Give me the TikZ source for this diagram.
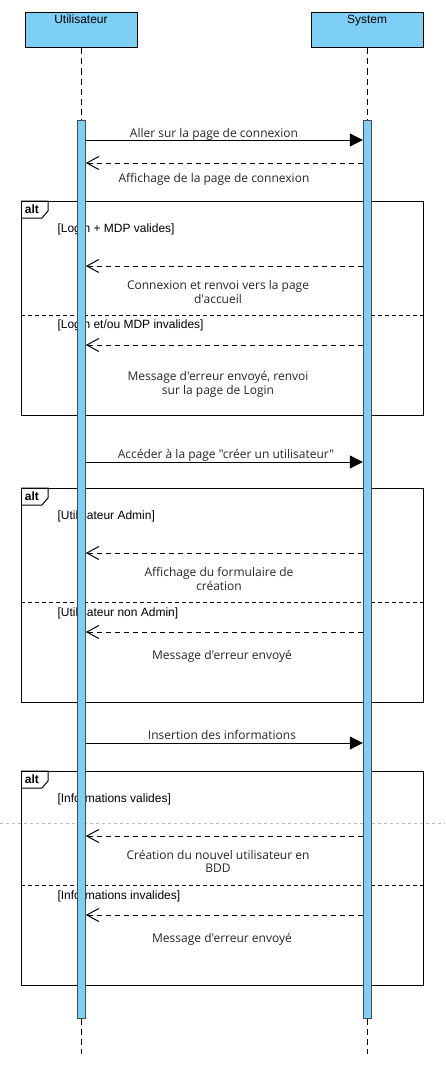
\documentclass[tikz,border=0pt]{standalone}
\usepackage{fontspec}
\setmainfont{Liberation Sans}
\newfontfamily\msgfont{Open Sans}
\usepackage{tikz}
\usetikzlibrary{arrows.meta}
\definecolor{umlblue}{RGB}{125,207,245}
\tikzset{every picture/.append style={x=1pt,y=-1pt}}
\tikzset{actor/.style={draw=black, fill=umlblue, line width=1pt, minimum width=112pt, minimum height=35pt, inner sep=0pt}}
\tikzset{actorname/.style={font=\fontsize{12}{14}\selectfont, anchor=base, inner sep=0pt}}
\tikzset{lifeline/.style={line width=1pt, dash pattern=on 6pt off 4pt}}
\tikzset{actbar/.style={draw=black!70, fill=umlblue, line width=1pt, minimum width=8pt, minimum height=898pt, inner sep=0pt}}
\tikzset{call/.style={line width=1pt, -{Triangle[length=13pt,width=13pt]}}}
\tikzset{reply/.style={line width=1pt, dash pattern=on 5pt off 4pt, -{Straight Barb[length=12pt,width=13pt]}}}
\tikzset{msg/.style={font=\msgfont\fontsize{12}{13.7}\selectfont, text=black!85, anchor=base, inner sep=0pt, align=center}}
\tikzset{guard/.style={font=\fontsize{12}{14}\selectfont, anchor=base west, inner sep=0pt}}
\tikzset{frame/.style={line width=1pt}}
\tikzset{divider/.style={line width=1pt, dash pattern=on 4pt off 3pt}}
\tikzset{alttag/.style={font=\bfseries\fontsize{12}{14}\selectfont, anchor=base west, inner sep=0pt}}
\tikzset{pagebreak/.style={black!25, line width=0.8pt, dash pattern=on 3pt off 3pt}}

\begin{document}
\begin{tikzpicture}
%sequence: user logs in, asks for the user creation page, sends the new user data
\useasboundingbox (0,0) rectangle (445,1073);
\draw[pagebreak] (0,823) -- (445,823);
\node (user) at (81,30.5)[actor]{};
\node (sys) at (367,30.5)[actor]{};
\node at (81,24)[actorname]{Utilisateur};
\node at (367,24)[actorname]{System};
\coordinate (userend) at (81,1054);
\coordinate (sysend) at (367,1054);
\draw[lifeline] (user.south)--(userend);
\draw[lifeline] (sys.south)--(sysend);
% frames
\draw[frame] (21,201) rectangle (423,415);
\draw[frame] (21,201)--(48,201)--(48,211)--(42,218)--(21,218);
\node at (24.7,213.3)[alttag]{alt};
\node at (57.3,232)[guard]{[Login + MDP valides]};
\draw[divider] (21,315)--(423,315);
\node at (57.3,328.3)[guard]{[Login et/ou MDP invalides]};
\draw[frame] (21,488) rectangle (423,702);
\draw[frame] (21,488)--(48,488)--(48,498)--(42,505)--(21,505);
\node at (24.7,500.3)[alttag]{alt};
\node at (57.3,519)[guard]{[Utilisateur Admin]};
\draw[divider] (21,602)--(423,602);
\node at (57.3,616)[guard]{[Utilisateur non Admin]};
\draw[frame] (21,771) rectangle (423,985);
\draw[frame] (21,771)--(48,771)--(48,781)--(42,788)--(21,788);
\node at (24.7,783.3)[alttag]{alt};
\node at (57.3,802)[guard]{[Informations valides]};
\draw[divider] (21,885)--(423,885);
\node at (57.3,899)[guard]{[Informations invalides]};
% activation bars
\node (userbar) at (81.3,569)[actbar]{};
\node (sysbar) at (367.3,569)[actbar]{};
% messages
\coordinate (m1) at (0,140);
\coordinate (m2) at (0,163);
\coordinate (m3) at (0,266);
\coordinate (m4) at (0,345);
\coordinate (m5) at (0,462);
\coordinate (m6) at (0,553);
\coordinate (m7) at (0,632);
\coordinate (m8) at (0,743);
\coordinate (m9) at (0,836);
\coordinate (m10) at (0,915);
\draw[call] (userbar.east |- m1)--(sysbar.west |- m1);
\node at (214,137.5)[msg]{Aller sur la page de connexion};
\draw[reply] (sysbar.west |- m2)--(userbar.east |- m2);
\node at (214,182)[msg]{Affichage de la page de connexion};
\draw[reply] (sysbar.west |- m3)--(userbar.east |- m3);
\node at (218,303.3)[msg]{Connexion et renvoi vers la page\\d'accueil};
\draw[reply] (sysbar.west |- m4)--(userbar.east |- m4);
\node at (218,394)[msg]{Message d'erreur envoyé, renvoi\\sur la page de Login};
\draw[call] (userbar.east |- m5)--(sysbar.west |- m5);
\node at (226,458.3)[msg]{Accéder à la page "créer un utilisateur"};
\draw[reply] (sysbar.west |- m6)--(userbar.east |- m6);
\node at (219,590.3)[msg]{Affichage du formulaire de\\création};
\draw[reply] (sysbar.west |- m7)--(userbar.east |- m7);
\node at (222,659.3)[msg]{Message d'erreur envoyé};
\draw[call] (userbar.east |- m8)--(sysbar.west |- m8);
\node at (222,739)[msg]{Insertion des informations};
\draw[reply] (sysbar.west |- m9)--(userbar.east |- m9);
\node at (218,872.7)[msg]{Création du nouvel utilisateur en\\BDD};
\draw[reply] (sysbar.west |- m10)--(userbar.east |- m10);
\node at (222,942)[msg]{Message d'erreur envoyé};
\end{tikzpicture}
\end{document}
